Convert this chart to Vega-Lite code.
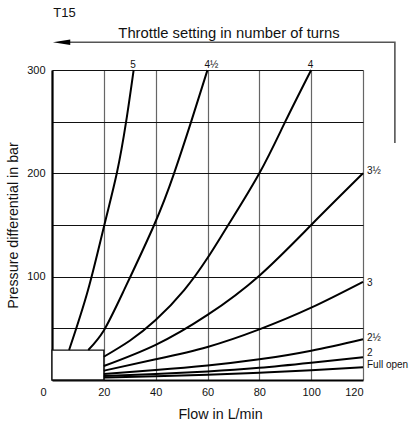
{
  "$schema": "https://vega.github.io/schema/vega-lite/v6.json",
  "autosize": "none",
  "width": 311,
  "height": 310,
  "padding": {"left": 52, "top": 70, "right": 49, "bottom": 43},
  "background": "white",
  "config": {
    "font": "Liberation Sans",
    "view": {"stroke": null},
    "axis": {"labelFont": "Liberation Sans", "titleFont": "Liberation Sans", "labelColor": "#111", "titleColor": "#111", "titleFontWeight": "normal"}
  },
  "datasets": {
    "curves": [
      {"curve": "5", "q": 6.6, "p": 29}, {"curve": "5", "q": 13.9, "p": 87}, {"curve": "5", "q": 20.2, "p": 150}, {"curve": "5", "q": 25, "p": 200}, {"curve": "5", "q": 28.6, "p": 250}, {"curve": "5", "q": 31.5, "p": 300},
      {"curve": "4.5", "q": 14, "p": 29}, {"curve": "4.5", "q": 20, "p": 48}, {"curve": "4.5", "q": 27.8, "p": 87}, {"curve": "4.5", "q": 39.4, "p": 150}, {"curve": "4.5", "q": 47.1, "p": 200}, {"curve": "4.5", "q": 53.7, "p": 250}, {"curve": "4.5", "q": 60, "p": 300},
      {"curve": "4", "q": 20, "p": 22.5}, {"curve": "4", "q": 30, "p": 38}, {"curve": "4", "q": 40, "p": 58}, {"curve": "4", "q": 51, "p": 87}, {"curve": "4", "q": 60, "p": 118}, {"curve": "4", "q": 68, "p": 150}, {"curve": "4", "q": 80, "p": 200}, {"curve": "4", "q": 90, "p": 250}, {"curve": "4", "q": 100, "p": 300},
      {"curve": "3.5", "q": 20, "p": 13.5}, {"curve": "3.5", "q": 40, "p": 34}, {"curve": "3.5", "q": 60, "p": 63}, {"curve": "3.5", "q": 80, "p": 101}, {"curve": "3.5", "q": 100, "p": 150}, {"curve": "3.5", "q": 120, "p": 200},
      {"curve": "3", "q": 20, "p": 9}, {"curve": "3", "q": 40, "p": 20}, {"curve": "3", "q": 60, "p": 32}, {"curve": "3", "q": 80, "p": 49}, {"curve": "3", "q": 100, "p": 70}, {"curve": "3", "q": 120, "p": 95},
      {"curve": "2.5", "q": 20, "p": 5.8}, {"curve": "2.5", "q": 40, "p": 9.6}, {"curve": "2.5", "q": 60, "p": 14}, {"curve": "2.5", "q": 80, "p": 20}, {"curve": "2.5", "q": 100, "p": 28.4}, {"curve": "2.5", "q": 120, "p": 39.5},
      {"curve": "2", "q": 20, "p": 3.9}, {"curve": "2", "q": 40, "p": 5.8}, {"curve": "2", "q": 60, "p": 8.3}, {"curve": "2", "q": 80, "p": 11.9}, {"curve": "2", "q": 100, "p": 16.8}, {"curve": "2", "q": 120, "p": 22},
      {"curve": "open", "q": 20, "p": 2.3}, {"curve": "open", "q": 40, "p": 3.6}, {"curve": "open", "q": 60, "p": 5}, {"curve": "open", "q": 80, "p": 7.1}, {"curve": "open", "q": 100, "p": 9.4}, {"curve": "open", "q": 120, "p": 12.3}
    ],
    "topLabels": [
      {"label": "5", "q": 31.3, "p": 300},
      {"label": "4½", "q": 61.5, "p": 300},
      {"label": "4", "q": 99.8, "p": 300}
    ],
    "rightLabels": [
      {"label": "3½", "p": 202},
      {"label": "3", "p": 94},
      {"label": "2½", "p": 40.6},
      {"label": "2", "p": 26},
      {"label": "Full open", "p": 14.5}
    ],
    "box": [{"q0": 0, "q1": 20, "p0": 0, "p1": 29}],
    "arrowPath": [
      {"i": 1, "q": 132.3, "p": 229.4},
      {"i": 2, "q": 132.3, "p": 326.8},
      {"i": 3, "q": 3, "p": 326.8}
    ],
    "arrowHead": [{"q": 3.7, "p": 326.8}],
    "heading": [{"text": "Throttle setting in number of turns", "q": 25.6, "p": 331.3}],
    "code": [{"text": "T15", "q": 0.5, "p": 351}]
  },
  "layer": [
    {
      "data": {"name": "box"},
      "mark": {"type": "rect", "fill": "white", "stroke": "#111", "strokeWidth": 1.3},
      "encoding": {
        "x": {"field": "q0", "type": "quantitative", "scale": {"domain": [0, 120], "nice": false, "zero": false},
          "axis": {"values": [0, 20, 40, 60, 80, 100, 120], "grid": true, "gridColor": "#666", "gridWidth": 1.2, "gridOpacity": 1, "ticks": false, "domainColor": "#000", "domainWidth": 2.2, "labelFontSize": 11, "labelPadding": 6, "labelBaseline": "top",
            "labelOffset": {"condition": {"test": "datum.value === 0", "value": -12}, "value": 0},
            "title": "Flow in L/min", "titleFontSize": 14.3, "titleX": 168, "titleY": 38, "titleBaseline": "alphabetic"}},
        "x2": {"field": "q1"},
        "y": {"field": "p0", "type": "quantitative", "scale": {"domain": [0, 300], "nice": false, "zero": false},
          "axis": {"values": [50, 100, 150, 200, 250, 300], "grid": true, "gridColor": "#111", "gridWidth": 1.2, "gridOpacity": 1, "ticks": false, "domainColor": "#000", "domainWidth": 2.2, "labelFontSize": 11, "labelPadding": 7,
            "labelExpr": "datum.value % 100 === 0 ? datum.label : ''",
            "title": "Pressure differential in bar", "titleFontSize": 14.3, "titlePadding": 6}},
        "y2": {"field": "p1"}
      }
    },
    {
      "data": {"name": "curves"},
      "mark": {"type": "line", "color": "#000", "strokeWidth": 2, "interpolate": "natural"},
      "encoding": {
        "x": {"field": "q", "type": "quantitative"},
        "y": {"field": "p", "type": "quantitative"},
        "detail": {"field": "curve"}
      }
    },
    {
      "data": {"name": "topLabels"},
      "mark": {"type": "text", "fontSize": 10, "baseline": "alphabetic", "dy": -2, "align": "center", "color": "#111"},
      "encoding": {
        "x": {"field": "q", "type": "quantitative"},
        "y": {"field": "p", "type": "quantitative"},
        "text": {"field": "label"}
      }
    },
    {
      "data": {"name": "rightLabels"},
      "mark": {"type": "text", "fontSize": 10, "baseline": "middle", "dx": 4, "align": "left", "color": "#111"},
      "encoding": {
        "x": {"datum": 120, "type": "quantitative"},
        "y": {"field": "p", "type": "quantitative"},
        "text": {"field": "label"}
      }
    },
    {
      "data": {"name": "arrowPath"},
      "mark": {"type": "line", "color": "#555", "strokeWidth": 1.6},
      "encoding": {
        "x": {"field": "q", "type": "quantitative"},
        "y": {"field": "p", "type": "quantitative"},
        "order": {"field": "i"}
      }
    },
    {
      "data": {"name": "arrowHead"},
      "mark": {"type": "point", "shape": "M -1 0 L 1 -0.32 L 1 0.32 Z", "size": 300, "filled": true, "color": "#000", "opacity": 1},
      "encoding": {
        "x": {"field": "q", "type": "quantitative"},
        "y": {"field": "p", "type": "quantitative"}
      }
    },
    {
      "data": {"name": "heading"},
      "mark": {"type": "text", "fontSize": 14.8, "baseline": "alphabetic", "align": "left", "color": "#111"},
      "encoding": {
        "x": {"field": "q", "type": "quantitative"},
        "y": {"field": "p", "type": "quantitative"},
        "text": {"field": "text"}
      }
    },
    {
      "data": {"name": "code"},
      "mark": {"type": "text", "fontSize": 13, "baseline": "alphabetic", "align": "left", "color": "#111"},
      "encoding": {
        "x": {"field": "q", "type": "quantitative"},
        "y": {"field": "p", "type": "quantitative"},
        "text": {"field": "text"}
      }
    }
  ]
}
